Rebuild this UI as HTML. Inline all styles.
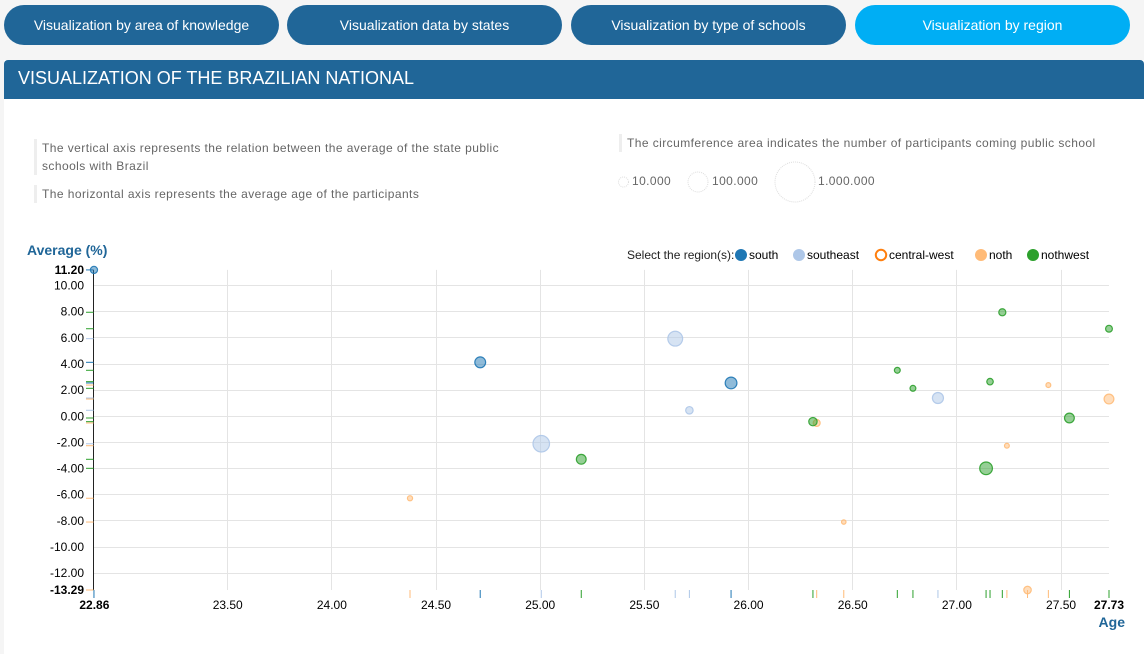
<!DOCTYPE html>
<html lang="en">
<head>
<meta charset="utf-8">
<title>Visualization by region</title>
<style>
html,body{margin:0;padding:0;width:1144px;height:654px;overflow:hidden;background:#f5f5f5;font-family:"Liberation Sans",Arial,sans-serif}
.nav{position:absolute;top:5px;height:40px;width:275px;border-radius:20px;background:#206698;color:#fff;font-size:14px;line-height:40px;text-align:center;cursor:pointer}
.nav.active{background:#00aef4}
#panel{position:absolute;left:4px;top:60px;width:1140px;height:594px;background:#fff}
#head{position:absolute;left:4px;top:60px;width:1140px;height:39px;background:#206698;border-radius:4px 4px 0 0;color:#fff;font-size:18px;line-height:37px;text-indent:14px}
.note{position:absolute;color:#666;font-size:12px;line-height:18px;letter-spacing:.43px;border-left:3px solid #eee;padding-left:5px}
svg{position:absolute;left:0;top:0}
svg text{font-family:"Liberation Sans",Arial,sans-serif}
</style>
</head>
<body>
<div class="nav" style="left:4px">Visualization by area of knowledge</div>
<div class="nav" style="left:287px">Visualization data by states</div>
<div class="nav" style="left:571px">Visualization by type of schools</div>
<div class="nav active" style="left:855px">Visualization by region</div>
<div id="panel"></div>
<div id="head">VISUALIZATION OF THE BRAZILIAN NATIONAL</div>
<div class="note" style="left:34px;top:139px;width:470px">The vertical axis represents the relation between the average of the state public schools with Brazil</div>
<div class="note" style="left:34px;top:185px;width:470px">The horizontal axis represents the average age of the participants</div>
<div class="note" style="left:619px;top:134px;width:510px">The circumference area indicates the number of participants coming public school</div>

<svg id="chart" width="1144" height="654" viewBox="0 0 1144 654"></svg>

<script>
// ---- chart data ----
const xTicks = [23.5, 24, 24.5, 25, 25.5, 26, 26.5, 27, 27.5];
const yTicks = [10, 8, 6, 4, 2, 0, -2, -4, -6, -8, -10, -12];
const xExtent = [22.86, 27.73];
const yExtent = [-13.29, 11.20];
const sizeLegend = [10000, 100000, 1000000];
const sizeLegendLabels = ["10.000", "100.000", "1.000.000"];

const regionNames = ["south", "southeast", "central-west", "noth", "nothwest"];

const southAge = [22.858, 24.712, 25.916];
const southAvg = [11.20, 4.13, 2.55];
const southPart = [3300, 13000, 17000];

const southeastAge = [25.648, 25.716, 25.005, 26.909];
const southeastAvg = [5.94, 0.46, -2.10, 1.40];
const southeastPart = [37000, 3800, 53000, 14000];

const centralWestAge = [];
const centralWestAvg = [];
const centralWestPart = [];

const nothAge = [24.375, 26.327, 26.457, 27.24, 27.439, 27.73, 27.339];
const nothAvg = [-6.27, -0.51, -8.09, -2.25, 2.39, 1.32, -13.29];
const nothPart = [1100, 3000, 700, 900, 900, 9300, 3800];

const nothwestAge = [27.218, 27.73, 26.714, 26.789, 27.159, 26.309, 27.54, 27.14, 25.197];
const nothwestAvg = [7.96, 6.70, 3.52, 2.14, 2.65, -0.41, -0.13, -3.98, -3.29];
const nothwestPart = [3200, 2800, 1700, 1700, 2400, 5500, 9300, 22000, 9300];

// ---- scales ----
function xScale(v){ return 436.05 + (v - 24.5) * 208.34; }
function yScale(v){ return 416.3 - v * 13.07; }
function rScale(n){ return 5 * Math.pow(n / 10000, 0.301); }

const svgNS = "http://www.w3.org/2000/svg";
const chart = document.getElementById("chart");
function mk(tag, attrs, parent){
  const el = document.createElementNS(svgNS, tag);
  for (const k in attrs) el.setAttribute(k, attrs[k]);
  (parent || chart).appendChild(el);
  return el;
}
function label(str, x, y, anchor, size, weight, fill){
  const t = mk("text", {x: x, y: y, "text-anchor": anchor, "font-size": size, "font-weight": weight, fill: fill});
  t.textContent = str;
  return t;
}
const fmt = v => v.toFixed(2);
const GRID = "#e4e4e4";
const AXIS_TOP = yScale(yExtent[1]), AXIS_BOTTOM = yScale(yExtent[0]);
const AXIS_LEFT = Math.floor(xScale(xExtent[0])) - 0.5, AXIS_RIGHT = xScale(xExtent[1]);

// grid and tick labels
yTicks.forEach(v => {
  const y = Math.floor(yScale(v)) + 0.5;
  const g = mk("line", {x1: AXIS_LEFT, x2: AXIS_RIGHT, y1: y, y2: y, stroke: GRID, "stroke-width": 1});
  
  
  const t = label(fmt(v), 84, yScale(v) + 4, "end", 12, "normal", "#000");
  
  
});
xTicks.forEach(v => {
  const x = Math.floor(xScale(v)) + 0.5;
  const g = mk("line", {x1: x, x2: x, y1: AXIS_TOP, y2: AXIS_BOTTOM, stroke: GRID, "stroke-width": 1});
  
  
  const t = label(fmt(v), xScale(v), 609, "middle", 12, "normal", "#000");
  
  
});
xExtent.forEach(v => {
  const t = label(fmt(v), xScale(v), 609, "middle", 12, "bold", "#000");
  
  
});
yExtent.forEach(v => {
  const t = label(fmt(v), 84, yScale(v) + 4, "end", 12, "bold", "#000");
  
  
});

const yAxis = mk("line", {x1: AXIS_LEFT, x2: AXIS_LEFT, y1: AXIS_TOP, y2: AXIS_BOTTOM, stroke: "#222", "stroke-width": 1});



const yTitle = label("Average (%)", 27, 255, "start", 14, "bold", "#206698");


const xTitle = label("Age", 1125, 627, "end", 14, "bold", "#206698");



// series
function drawSeries(name, color, ages, avgs, parts){
  const g = mk("g", {});
  
  
  ages.forEach((a, i) => {
    const cx = xScale(a), cy = yScale(avgs[i]);
    const r = rScale(parts[i]);
    const rugX = mk("line", {x1: cx, x2: cx, y1: AXIS_BOTTOM, y2: AXIS_BOTTOM + 8, stroke: color, "stroke-width": 1}, g);
    
    
    const rugY = mk("line", {x1: AXIS_LEFT - 7.5, x2: AXIS_LEFT, y1: cy, y2: cy, stroke: color, "stroke-width": 1}, g);
    
    
    const c = mk("circle", {cx: cx, cy: cy, r: r, fill: color, "fill-opacity": .5, stroke: color, "stroke-width": 1.2, "stroke-opacity": .9}, g);
    
    
  });
}
drawSeries("south", "#1f77b4", southAge, southAvg, southPart);
drawSeries("southeast", "#aec7e8", southeastAge, southeastAvg, southeastPart);
drawSeries("central-west", "#ff7f0e", centralWestAge, centralWestAvg, centralWestPart);
drawSeries("noth", "#ffbb78", nothAge, nothAvg, nothPart);
drawSeries("nothwest", "#2ca02c", nothwestAge, nothwestAvg, nothwestPart);

// size legend
const sizeCx = [623.5, 698, 795];
const sizeLabelX = [632, 712, 818];
sizeLegend.forEach((n, i) => {
  const c = mk("circle", {cx: sizeCx[i], cy: 182, r: rScale(n), fill: "none", stroke: "#ddd", "stroke-width": 1, "stroke-dasharray": "1 1"});
  
  
  const t = label(sizeLegendLabels[i], sizeLabelX[i], 185, "start", 12, "normal", "#666");
  t.setAttribute('letter-spacing', '.4');
  
  
});

// region legend
const selectLabel = label("Select the region(s):", 627, 259, "start", 12, "normal", "#222");


const legendColors = ["#1f77b4", "#aec7e8", "#ff7f0e", "#ffbb78", "#2ca02c"];
const legendCx = [741, 799, 881, 981, 1033];
regionNames.forEach((n, i) => {
  const hollow = n === "central-west";
  const c = mk("circle", {cx: legendCx[i], cy: 255, r: hollow ? 5.2 : 6, fill: hollow ? "#fff" : legendColors[i], stroke: hollow ? legendColors[i] : "none", "stroke-width": hollow ? 2 : 0});
  
  
  const t = label(n, legendCx[i] + 8, 259, "start", 12, "normal", "#000");
  
  
});
</script>
</body>
</html>
